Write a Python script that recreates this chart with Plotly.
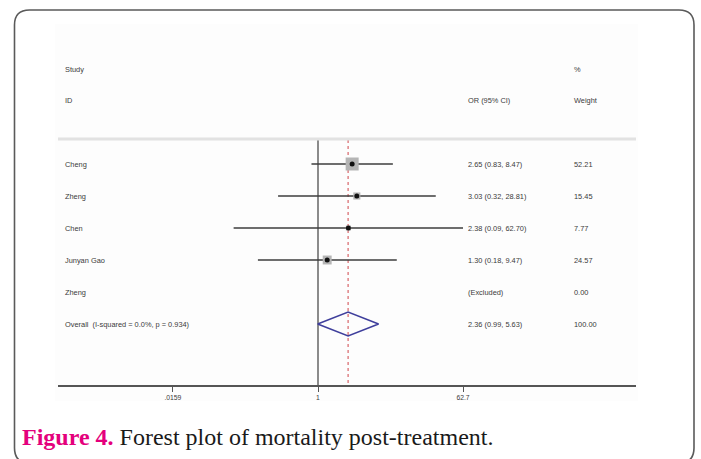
import math
import plotly.graph_objects as go

# ---------------- data ----------------
studies = ["Cheng", "Zheng", "Chen", "Junyan Gao", "Zheng"]
odds_ratio = [2.65, 3.03, 2.38, 1.30, None]
ci_low = [0.83, 0.32, 0.09, 0.18, None]
ci_high = [8.47, 28.81, 62.70, 9.47, None]
weights = [52.21, 15.45, 7.77, 24.57, 0.00]

overall_label = "Overall  (I-squared = 0.0%, p = 0.934)"
overall_or = 2.36
overall_low = 0.99
overall_high = 5.63
overall_weight = 100.00

tick_vals = [0.0159, 1, 62.7]
tick_text = [".0159", "1", "62.7"]

# ---------------- layout helpers (pixel geometry) ----------------
W, H = 701, 459
def px(x):
    return x / W
def py(y):
    return 1 - y / H

ROW0, ROW_STEP = 164, 32
row_y = [ROW0 + ROW_STEP * i for i in range(len(studies) + 1)]
AXIS_Y = 386
TOP_Y = 140
X_LEFT, X_RIGHT = 58, 636
X_ONE = 318
PPD = 145 / math.log10(62.7)  # pixels per decade
x_range = [-(X_ONE - X_LEFT) / PPD, (X_RIGHT - X_ONE) / PPD]

TXT = dict(family="Liberation Sans, Arial, sans-serif", size=7.4, color="#3a3a3a")

fig = go.Figure()

# reference line at OR = 1
fig.add_trace(go.Scatter(x=[1, 1], y=[TOP_Y, AXIS_Y], mode="lines",
                         line=dict(color="#6e6e6e", width=1.6),
                         hoverinfo="skip", showlegend=False))
# overall effect dashed line
fig.add_trace(go.Scatter(x=[overall_or, overall_or], y=[TOP_Y, AXIS_Y], mode="lines",
                         line=dict(color="#d0454a", width=1, dash="dot"),
                         hoverinfo="skip", showlegend=False))

# study CIs, weight boxes and point estimates
for i, (o, lo, hi, w) in enumerate(zip(odds_ratio, ci_low, ci_high, weights)):
    if o is None:
        continue
    y = row_y[i]
    fig.add_trace(go.Scatter(x=[lo, hi], y=[y, y], mode="lines",
                             line=dict(color="#3c3c3c", width=1.6),
                             hoverinfo="skip", showlegend=False))
    fig.add_trace(go.Scatter(x=[o], y=[y], mode="markers",
                             marker=dict(symbol="square", size=1.8 * math.sqrt(w),
                                         color="#b5b5b5", line=dict(width=0)),
                             hoverinfo="skip", showlegend=False))
    fig.add_trace(go.Scatter(x=[o], y=[y], mode="markers",
                             marker=dict(symbol="circle", size=5, color="#111111"),
                             hoverinfo="skip", showlegend=False))

# overall diamond
yo = row_y[-1]
fig.add_trace(go.Scatter(
    x=[overall_low, overall_or, overall_high, overall_or, overall_low],
    y=[yo, yo - 12, yo, yo + 12, yo], mode="lines",
    line=dict(color="#3f3f9c", width=1.6), hoverinfo="skip", showlegend=False))

# ---------------- text columns ----------------
ann = []
def text(x, y, s, **kw):
    d = dict(x=px(x), y=y, xref="paper", yref="y", text=s, showarrow=False,
             xanchor="left", yanchor="middle", font=TXT)
    d.update(kw)
    ann.append(d)

text(63, 69, "Study")
text(63, 100, "ID")
text(466, 100, "OR (95% CI)")
text(572, 69, "%")
text(572, 100, "Weight")

for i, (name, o, lo, hi, w) in enumerate(zip(studies, odds_ratio, ci_low, ci_high, weights)):
    y = row_y[i]
    text(63, y, name)
    if o is None:
        text(466, y, "(Excluded)")
    else:
        text(466, y, f"{o:.2f} ({lo:.2f}, {hi:.2f})")
    text(572, y, f"{w:.2f}")

text(63, yo, overall_label)
text(466, yo, f"{overall_or:.2f} ({overall_low:.2f}, {overall_high:.2f})")
text(572, yo, f"{overall_weight:.2f}")

# caption
ann.append(dict(x=px(20), y=437, xref="paper", yref="y", showarrow=False,
                xanchor="left", yanchor="middle",
                text="<b><span style='color:#e4007c'>Figure 4.</span></b> Forest plot of mortality post-treatment.",
                font=dict(family="Liberation Serif, Times New Roman, serif", size=24, color="#1a1a1a")))

# ---------------- shapes ----------------
shapes = []
# faint plot panel
shapes.append(dict(type="rect", xref="paper", yref="paper", layer="below",
                   x0=px(55), x1=px(638), y0=py(401), y1=py(24),
                   fillcolor="#fdfdfd", line=dict(width=0)))
# header separator
shapes.append(dict(type="line", xref="paper", yref="paper",
                   x0=px(X_LEFT), x1=px(X_RIGHT), y0=py(139), y1=py(139),
                   line=dict(color="#e2e2e2", width=3)))
# rounded frame
L, R, T, B, r = 14.5, 694, 10, 463, 15
path = (f"M {px(L)},{py(B - r)} L {px(L)},{py(T + r)} Q {px(L)},{py(T)} {px(L + r)},{py(T)} "
        f"L {px(R - r)},{py(T)} Q {px(R)},{py(T)} {px(R)},{py(T + r)} "
        f"L {px(R)},{py(B - r)} Q {px(R)},{py(B)} {px(R - r)},{py(B)} "
        f"L {px(L + r)},{py(B)} Q {px(L)},{py(B)} {px(L)},{py(B - r)} Z")
shapes.append(dict(type="path", xref="paper", yref="paper", path=path,
                   line=dict(color="#5a5a5a", width=1.6)))

fig.update_layout(
    width=W, height=H,
    margin=dict(l=0, r=0, t=0, b=0),
    paper_bgcolor="white", plot_bgcolor="rgba(0,0,0,0)",
    showlegend=False,
    annotations=ann, shapes=shapes,
    xaxis=dict(type="log", domain=[px(X_LEFT), px(X_RIGHT)], range=x_range,
               anchor="free", position=(H - AXIS_Y) / H,
               showline=True, linecolor="#555555", linewidth=1.6,
               ticks="outside", ticklen=5, tickcolor="#555555", tickwidth=1,
               tickvals=tick_vals, ticktext=tick_text,
               tickfont=dict(family="Liberation Sans, Arial, sans-serif", size=6.8, color="#3a3a3a"),
               showgrid=False, zeroline=False, fixedrange=True),
    yaxis=dict(domain=[0, 1], range=[H, 0], visible=False, showgrid=False,
               zeroline=False, fixedrange=True),
)

fig.write_html("out.html",
               config={"displayModeBar": False},
               post_script="document.body.style.margin='0';document.body.style.padding='0';")
